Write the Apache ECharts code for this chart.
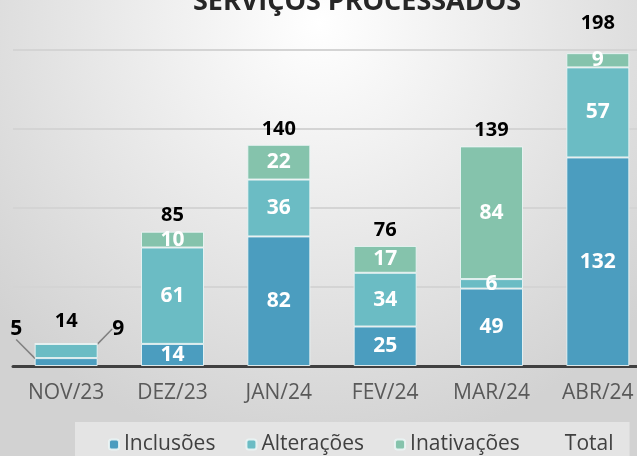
<!DOCTYPE html>
<html><head><meta charset="utf-8">
<script src="https://cdn.jsdelivr.net/npm/echarts@6/dist/echarts.min.js"></script>
<style>html,body{margin:0;padding:0;overflow:hidden;width:637px;height:456px;}#c{width:651px;height:456px;}</style>
</head><body><div id="c"></div>
<script>
const categories = ['NOV/23','DEZ/23','JAN/24','FEV/24','MAR/24','ABR/24'];
const inclusoes = [5, 14, 82, 25, 49, 132];
const alteracoes = [9, 61, 36, 34, 6, 57];
const inativacoes = [0, 10, 22, 17, 84, 9];
const totals = [14, 85, 140, 76, 139, 198];
const seriesNames = ['Inclusões','Alterações','Inativações','Total'];

const FONT = '"Open Sans", sans-serif';
const colors = ['#4b9dbf','#6bbcc4','#85c3ac'];
const chart = echarts.init(document.getElementById('c'));

function segLabel() {
  return {show:true, position:'inside', color:'#fff', fontWeight:'bold', fontSize:21, fontFamily:FONT,
    formatter: p => p.value === 0 ? '' : String(p.value)};
}
const common = {type:'bar', stack:'s', barWidth:63,
  itemStyle:{borderColor:'rgba(235,245,245,0.9)', borderWidth:1},
  labelLine:{show:true, lineStyle:{color:'#808080', width:1.5}}};

chart.setOption({
  backgroundColor: {type:'radial', x:0.49, y:0.05, r:0.95,
    colorStops:[{offset:0,color:'#ffffff'},{offset:1,color:'#d2d2d2'}]},
  animation:false,
  title:{text:'SERVIÇOS PROCESSADOS', left:352, textAlign:'center', top:-16,
    textStyle:{fontFamily:FONT, fontSize:27, fontWeight:'bold', color:'#262626'}},
  legend:{data:seriesNames, left:75, top:422, itemGap:30, itemWidth:10, itemHeight:10,
    backgroundColor:'#e4e4e4', padding:[12,16,14,33],
    textStyle:{fontFamily:FONT, fontSize:21, color:'#404040'}},
  grid:{left:13, right:0, top:50, bottom:90},
  xAxis:{type:'category', data:categories,
    axisLine:{lineStyle:{color:'#404040', width:3}}, axisTick:{show:false},
    axisLabel:{fontFamily:FONT, fontSize:21, color:'#595959', margin:17}},
  yAxis:{type:'value', min:0, max:200, interval:50, axisLabel:{show:false},
    axisLine:{show:false}, axisTick:{show:false},
    splitLine:{lineStyle:{color:'#d4d4d4', width:2}}},
  series:[
    Object.assign({}, common, {name:seriesNames[0], color:colors[0],
      data: inclusoes.map((v,i)=> i===0 ? {value:v, label:{color:'#000'}} : v),
      label:segLabel(),
      labelLayout: p => p.dataIndex===0 ? {dx:-50, dy:-33} : {}}),
    Object.assign({}, common, {name:seriesNames[1], color:colors[1],
      data: alteracoes.map((v,i)=> i===0 ? {value:v, label:{color:'#000'}} : v),
      label:segLabel(),
      labelLayout: p => p.dataIndex===0 ? {dx:52, dy:-22} : {}}),
    Object.assign({}, common, {name:seriesNames[2], color:colors[2],
      data: inativacoes, label:segLabel()}),
    {type:'bar', name:seriesNames[3], stack:'t', barWidth:63, barGap:'-100%',
      color:'rgba(0,0,0,0)', itemStyle:{color:'rgba(0,0,0,0)'},
      data: totals.map((v,i)=> i===0 ? {value:v, label:{distance:13}} : (i===totals.length-1 ? {value:v, label:{distance:20}} : v)),
      label:{show:true, position:'top', distance:6, color:'#000', fontWeight:'bold', fontSize:20, fontFamily:FONT},
      z:5}
  ]
});
</script></body></html>
